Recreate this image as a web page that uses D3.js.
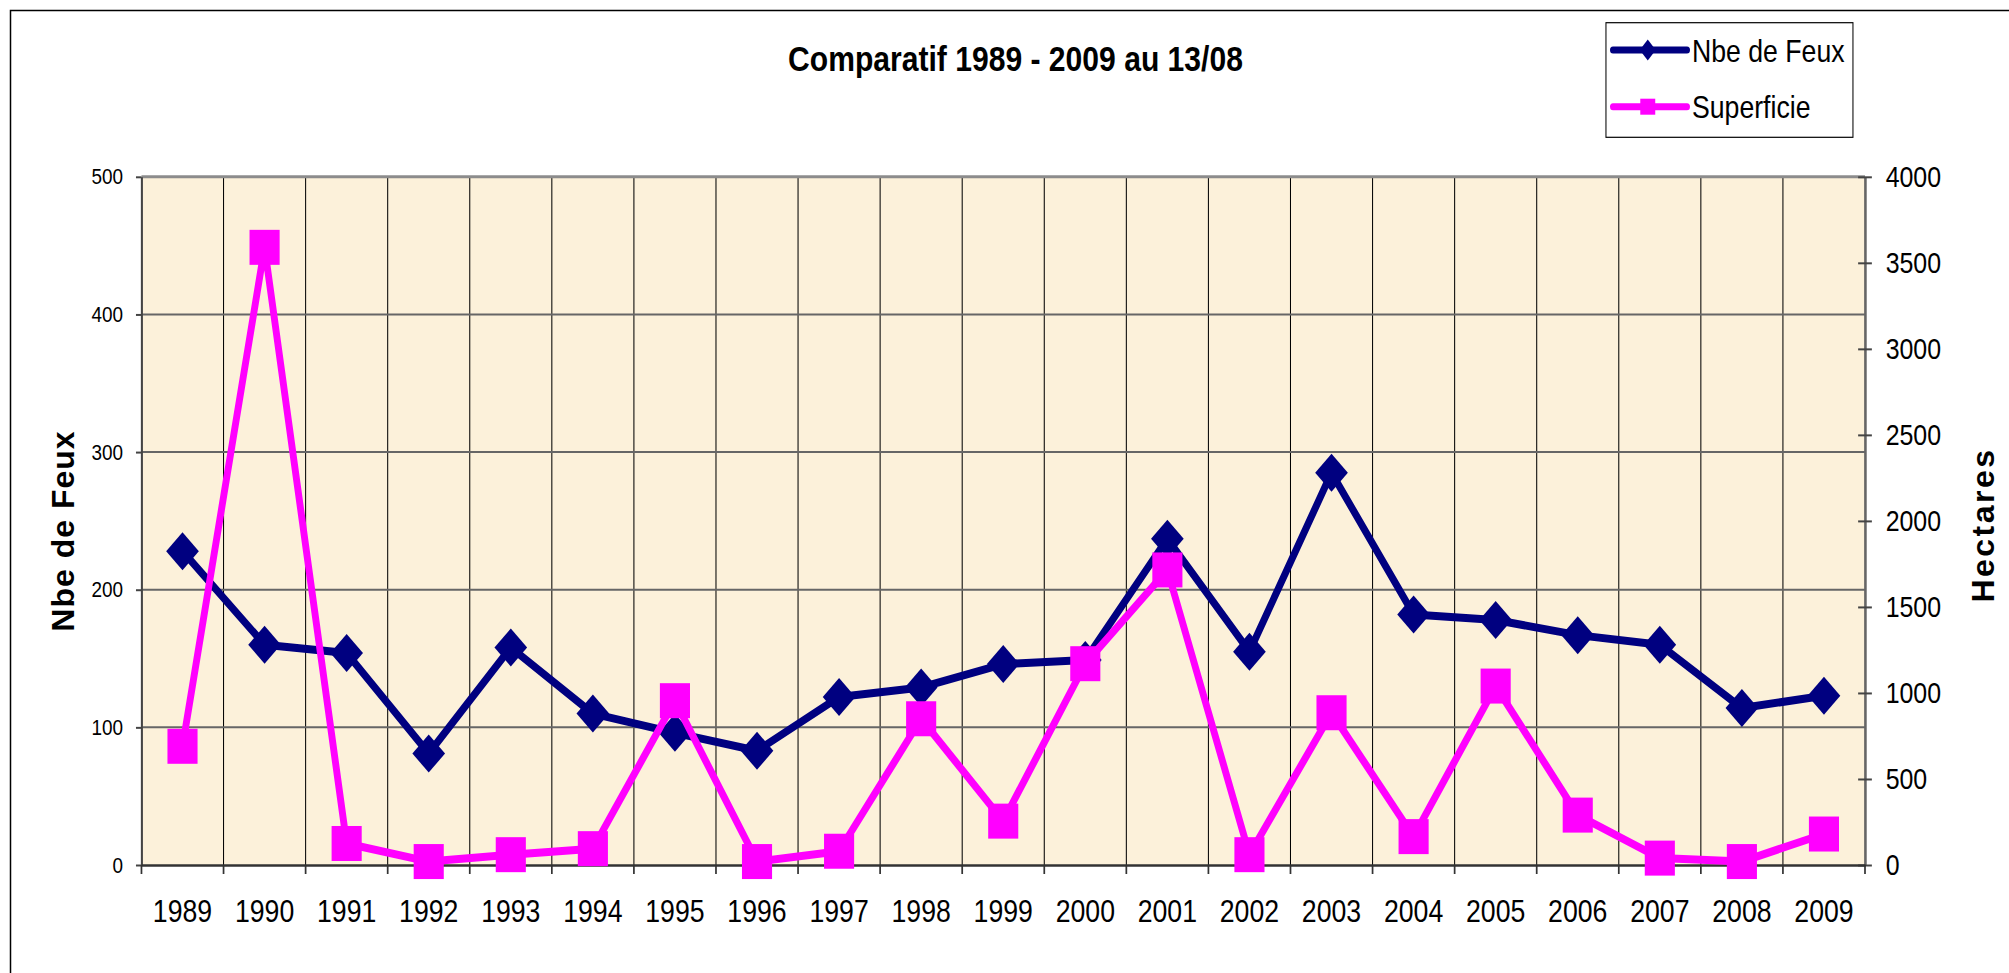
<!DOCTYPE html>
<html>
<head>
<meta charset="utf-8">
<script src="https://cdn.jsdelivr.net/npm/d3@7"></script>
<style>
  body { margin: 0; background: #fff; }
  svg { display: block; }
</style>
</head>
<body>
<div id="chart"></div>
<script>
// data
const years = ["1989", "1990", "1991", "1992", "1993", "1994", "1995", "1996", "1997", "1998", "1999",
  "2000", "2001", "2002", "2003", "2004", "2005", "2006", "2007", "2008", "2009"];
const feux = [228, 160, 154, 81, 158, 110, 96, 83, 122, 129, 146, 149, 237, 155, 285, 182, 178, 167, 160, 114, 123];
const superficie = [690, 3590, 125, 20, 60, 95, 955, 20, 80, 850, 255, 1170, 1715, 60, 885, 165, 1040, 290, 40, 20, 180];
const leftTicks = [0, 100, 200, 300, 400, 500];
const rightTicks = [0, 500, 1000, 1500, 2000, 2500, 3000, 3500, 4000];
const seriesNames = ["Nbe de Feux", "Superficie"];

const W = 2009, H = 973;
const sx = 0.86; // the original chart is squeezed horizontally
const font = "'Liberation Sans', Arial, sans-serif";
const navy = "#000080", pink = "#ff00ff";

const svg = d3.select("#chart").append("svg")
  .attr("width", W)
  .attr("height", H);

svg.append("rect").attr("width", W).attr("height", H).attr("fill", "#fff");

// outer chart frame
svg.append("rect")
  .attr("x", 10.5).attr("y", 10.5)
  .attr("width", 2200).attr("height", 1200)
  .attr("fill", "none").attr("stroke", "#000").attr("stroke-width", 1.5);

const g = svg.append("g").attr("transform", `scale(${sx},1)`);

const m = { left: 164.5, right: 2168.6, top: 176.8, bottom: 865 };

const x = d3.scaleBand().domain(years).range([m.left, m.right]);
const cx = d => x(d) + x.bandwidth() / 2;
const yL = d3.scaleLinear().domain([0, 500]).range([m.bottom, m.top]);
const yR = d3.scaleLinear().domain([0, 4000]).range([m.bottom, m.top]);

// plot background
g.append("rect")
  .attr("x", m.left).attr("y", m.top)
  .attr("width", m.right - m.left).attr("height", m.bottom - m.top)
  .attr("fill", "#fcf1da");

// vertical grid at category boundaries
g.append("g")
  .selectAll("line")
  .data(years.slice(1))
  .join("line")
  .attr("x1", d => x(d)).attr("x2", d => x(d))
  .attr("y1", m.top).attr("y2", m.bottom)
  .attr("stroke", "#000").attr("stroke-width", 1.2);

// horizontal grid
g.append("g")
  .selectAll("line")
  .data(leftTicks.slice(1, -1))
  .join("line")
  .attr("x1", m.left).attr("x2", m.right)
  .attr("y1", d => yL(d)).attr("y2", d => yL(d))
  .attr("stroke", "#666").attr("stroke-width", 2);

// top edge of plot area
g.append("line")
  .attr("x1", m.left).attr("x2", m.right)
  .attr("y1", m.top).attr("y2", m.top)
  .attr("stroke", "#8c8c8c").attr("stroke-width", 3);

// left axis
const axL = g.append("g")
  .attr("transform", `translate(${m.left},0)`)
  .call(d3.axisLeft(yL).tickValues(leftTicks).tickSize(6.4).tickSizeOuter(0)
    .tickPadding(15).tickFormat(d3.format("d")));
axL.attr("font-family", font).attr("font-size", 22);
axL.select(".domain").attr("stroke", "#444").attr("stroke-width", 2.4);
axL.selectAll(".tick line").attr("stroke", "#444").attr("stroke-width", 2);

// right axis
const axR = g.append("g")
  .attr("transform", `translate(${m.right},0)`)
  .call(d3.axisRight(yR).tickValues(rightTicks).tickSize(8).tickSizeOuter(0)
    .tickPadding(16).tickFormat(d3.format("d")));
axR.attr("font-family", font).attr("font-size", 29);
axR.select(".domain").attr("stroke", "#666").attr("stroke-width", 3);
axR.selectAll(".tick line").attr("x1", -8).attr("stroke", "#444").attr("stroke-width", 2);

// bottom axis labels
const axB = g.append("g")
  .attr("transform", `translate(0,${m.bottom})`)
  .call(d3.axisBottom(x).tickSize(0).tickSizeOuter(0).tickPadding(35.5));
axB.attr("font-family", font).attr("font-size", 31);
axB.select(".domain").attr("stroke", "#333").attr("stroke-width", 2.6);

// bottom ticks at boundaries
const bounds = years.map(d => x(d)).concat([x.range()[1]]);
g.append("g")
  .selectAll("line")
  .data(bounds)
  .join("line")
  .attr("x1", d => d).attr("x2", d => d)
  .attr("y1", m.bottom).attr("y2", m.bottom + 9)
  .attr("stroke", "#333").attr("stroke-width", 2);

// series
const lineL = d3.line().x((d, i) => cx(years[i])).y(d => yL(d));
const lineR = d3.line().x((d, i) => cx(years[i])).y(d => yR(d));

g.append("path")
  .attr("d", lineL(feux))
  .attr("fill", "none").attr("stroke", navy).attr("stroke-width", 8)
  .attr("stroke-linejoin", "round");

g.append("g")
  .selectAll("path")
  .data(feux)
  .join("path")
  .attr("transform", (d, i) => `translate(${cx(years[i])},${yL(d)})`)
  .attr("d", "M0,-19L19,0L0,19L-19,0Z")
  .attr("fill", navy);

g.append("path")
  .attr("d", lineR(superficie))
  .attr("fill", "none").attr("stroke", pink).attr("stroke-width", 8)
  .attr("stroke-linejoin", "round");

g.append("g")
  .selectAll("rect")
  .data(superficie)
  .join("rect")
  .attr("x", (d, i) => cx(years[i]) - 17.5)
  .attr("y", d => yR(d) - 17.5)
  .attr("width", 35).attr("height", 35)
  .attr("fill", pink);

// title
g.append("text")
  .attr("x", 1180.8).attr("y", 70.7)
  .attr("text-anchor", "middle")
  .attr("font-family", font).attr("font-size", 35).attr("font-weight", "bold")
  .text("Comparatif 1989 - 2009 au 13/08");

// legend
const lg = g.append("g");
lg.append("rect")
  .attr("x", 1867.4).attr("y", 22.7)
  .attr("width", 287.2).attr("height", 114.6)
  .attr("fill", "#fff").attr("stroke", "#000").attr("stroke-width", 1.2);

const legendRows = lg.selectAll("g.row")
  .data(seriesNames)
  .join("g")
  .attr("class", "row")
  .attr("transform", (d, i) => `translate(0,${50 + i * 56.7})`);

legendRows.append("line")
  .attr("x1", 1875.6).attr("x2", 1961.6)
  .attr("stroke", (d, i) => i ? pink : navy)
  .attr("stroke-width", 7).attr("stroke-linecap", "round");

legendRows.filter((d, i) => i === 0).append("path")
  .attr("transform", "translate(1916,0)")
  .attr("d", "M0,-10.5L9.3,0L0,10.5L-9.3,0Z")
  .attr("fill", navy);

legendRows.filter((d, i) => i === 1).append("rect")
  .attr("x", 1916 - 8.7).attr("y", -8)
  .attr("width", 17.4).attr("height", 16)
  .attr("fill", pink);

legendRows.append("text")
  .attr("x", 1967.4).attr("y", 11.5)
  .attr("font-family", font).attr("font-size", 31)
  .text(d => d);

// axis titles (drawn unsqueezed)
svg.append("text")
  .attr("transform", "translate(74,531) rotate(-90)")
  .attr("text-anchor", "middle")
  .attr("font-family", font).attr("font-size", 32).attr("font-weight", "bold")
  .attr("letter-spacing", 1)
  .text("Nbe de Feux");

svg.append("text")
  .attr("transform", "translate(1994,525) rotate(-90)")
  .attr("text-anchor", "middle")
  .attr("font-family", font).attr("font-size", 32).attr("font-weight", "bold")
  .attr("letter-spacing", 2.5)
  .text("Hectares");
</script>
</body>
</html>
